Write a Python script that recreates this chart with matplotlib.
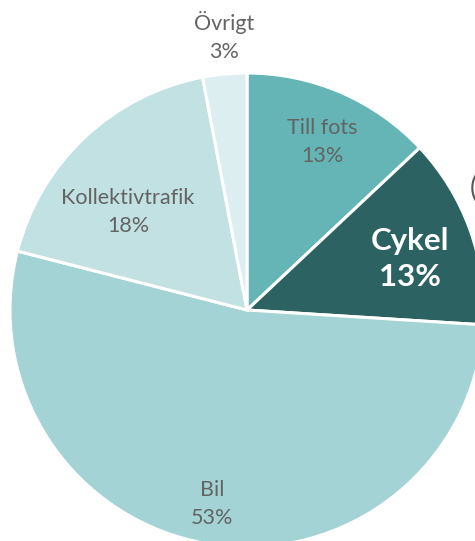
import matplotlib.pyplot as plt

categories = ['Till fots', 'Cykel', 'Bil', 'Kollektivtrafik', 'Övrigt']
shares = [13, 13, 53, 18, 3]
colors = ['#65b5b6', '#2c6262', '#a3d3d5', '#c1e1e3', '#dceef0']

plt.rcParams['font.family'] = ['Lato', 'DejaVu Sans']

W, H = 475, 541
fig = plt.figure(figsize=(W / 100, H / 100), dpi=100)
ax = fig.add_axes([0, 0, 1, 1])

ax.pie(shares, colors=colors, startangle=90, counterclock=False,
       center=(247, H - 310), radius=237,
       wedgeprops=dict(edgecolor='white', linewidth=2.2))
ax.set_xlim(0, W)
ax.set_ylim(0, H)
ax.set_aspect('equal')
ax.axis('off')

grey = '#636363'
# label positions in pixel coords (top-left origin)
pos = {'Till fots': (322, 142), 'Cykel': (410, 259), 'Bil': (212, 504),
       'Kollektivtrafik': (128, 212), 'Övrigt': (224, 36)}
for cat, val in zip(categories, shares):
    x, y = pos[cat]
    if cat == 'Cykel':
        ax.text(x, H - y, f'{cat}\n{val}%', ha='center', va='center',
                fontsize=22.5, fontweight='bold', color='white', linespacing=1.32)
    else:
        ax.text(x, H - y, f'{cat}\n{val}%', ha='center', va='center',
                fontsize=15.5, color=grey, linespacing=1.5)

# partially visible label at the right edge
ax.text(470, H - 188, '(', ha='left', va='center', fontsize=20, color='#595959')

fig.savefig('out.png', dpi=100)
